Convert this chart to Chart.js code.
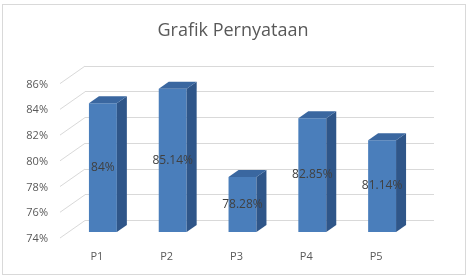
<!DOCTYPE html>
<html>
<head>
<meta charset="utf-8">
<script src="https://cdn.jsdelivr.net/npm/chart.js@4/dist/chart.umd.min.js"></script>
<style>
  html, body { margin: 0; padding: 0; background: #fff; }
  #wrap { width: 470px; height: 276px; position: relative; }
</style>
</head>
<body>
<div id="wrap"><canvas id="c" width="470" height="276"></canvas></div>
<script>
const categories = ['P1', 'P2', 'P3', 'P4', 'P5'];
const values = [84, 85.14, 78.28, 82.85, 81.14];
const valueLabels = ['84%', '85.14%', '78.28%', '82.85%', '81.14%'];
const yTicks = [74, 76, 78, 80, 82, 84, 86];
const chartTitle = 'Grafik Pernyataan';

const FONT = "'Open Sans', sans-serif";
const BACK = { dx: 17, dy: -12 };
const FRONT = { dx: -8, dy: 6 };
const DEPTH = { dx: 10, dy: -7 };

const frame = {
  id: 'frame',
  beforeDraw(chart) {
    const ctx = chart.ctx;
    ctx.save();
    ctx.fillStyle = '#ffffff';
    ctx.fillRect(0, 0, chart.width, chart.height);
    ctx.strokeStyle = '#d9d9d9';
    ctx.lineWidth = 1;
    ctx.strokeRect(2.5, 4.5, 463, 270);
    ctx.restore();
  },
  beforeDatasetsDraw(chart) {
    const ctx = chart.ctx;
    const ys = chart.scales.y;
    const a = chart.chartArea;
    ctx.save();
    ctx.strokeStyle = '#d9d9d9';
    ctx.lineWidth = 1;
    yTicks.forEach(v => {
      const py = ys.getPixelForValue(v);
      ctx.beginPath();
      ctx.moveTo(a.left + BACK.dx, Math.round(py + BACK.dy) + 0.5);
      ctx.lineTo(a.right + BACK.dx, Math.round(py + BACK.dy) + 0.5);
      ctx.stroke();
      ctx.beginPath();
      ctx.moveTo(a.left + FRONT.dx, py + FRONT.dy);
      ctx.lineTo(a.left + BACK.dx, py + BACK.dy + 0.5);
      ctx.stroke();
    });
    ctx.restore();
  },
  afterDatasetsDraw(chart) {
    const ctx = chart.ctx;
    const meta = chart.getDatasetMeta(0);
    const bottom = chart.scales.y.getPixelForValue(chart.scales.y.min);
    ctx.save();
    meta.data.forEach((bar, i) => {
      const p = bar.getProps(['x', 'y', 'width'], true);
      const base = bottom;
      const l = p.x - p.width / 2, r = p.x + p.width / 2;
      ctx.fillStyle = '#2f5689';
      ctx.beginPath();
      ctx.moveTo(r, p.y);
      ctx.lineTo(r + DEPTH.dx, p.y + DEPTH.dy);
      ctx.lineTo(r + DEPTH.dx, base + DEPTH.dy);
      ctx.lineTo(r, base);
      ctx.closePath();
      ctx.fill();
      ctx.fillStyle = '#3a67a0';
      ctx.beginPath();
      ctx.moveTo(l, p.y);
      ctx.lineTo(l + DEPTH.dx, p.y + DEPTH.dy);
      ctx.lineTo(r + DEPTH.dx, p.y + DEPTH.dy);
      ctx.lineTo(r, p.y);
      ctx.closePath();
      ctx.fill();
    });
    ctx.fillStyle = '#404040';
    ctx.font = "12px " + FONT;
    ctx.textAlign = 'center';
    ctx.textBaseline = 'middle';
    meta.data.forEach((bar, i) => {
      const p = bar.getProps(['x', 'y'], true);
      ctx.fillText(valueLabels[i], p.x, (p.y + bottom) / 2);
    });
    ctx.restore();
  }
};

new Chart(document.getElementById('c'), {
  type: 'bar',
  data: {
    labels: categories,
    datasets: [{
      data: values,
      backgroundColor: '#4a7ebb',
      borderWidth: 0,
      categoryPercentage: 1,
      barPercentage: 0.4,
      base: 74
    }]
  },
  options: {
    responsive: false,
    animation: false,
    devicePixelRatio: 1,
    layout: { padding: { left: 0, right: 4, top: 0, bottom: 0 } },
    plugins: {
      legend: { display: false },
      tooltip: { enabled: false },
      title: {
        display: true,
        text: chartTitle,
        color: '#595959',
        font: { family: FONT, size: 18, weight: 'normal', lineHeight: 1.2 },
        padding: { top: 20, bottom: 36 }
      }
    },
    scales: {
      x: {
        grid: { display: false, drawTicks: false },
        border: { display: false },
        ticks: { color: '#595959', font: { family: FONT, size: 11 }, padding: 18, labelOffset: -6 },
        afterFit(s) { s.height = 44; }
      },
      y: {
        min: 74, max: 86,
        grid: { display: false, drawTicks: false },
        border: { display: false },
        ticks: {
          stepSize: 2, color: '#595959', font: { family: FONT, size: 11 },
          padding: 20, labelOffset: 7,
          callback: v => v + '%'
        },
        afterFit(s) { s.width = 68; }
      },
      yRight: {
        position: 'right',
        display: true,
        grid: { display: false, drawTicks: false },
        border: { display: false },
        ticks: { display: false },
        afterFit(s) { s.width = 49; }
      }
    }
  },
  plugins: [frame]
});
</script>
</body>
</html>
